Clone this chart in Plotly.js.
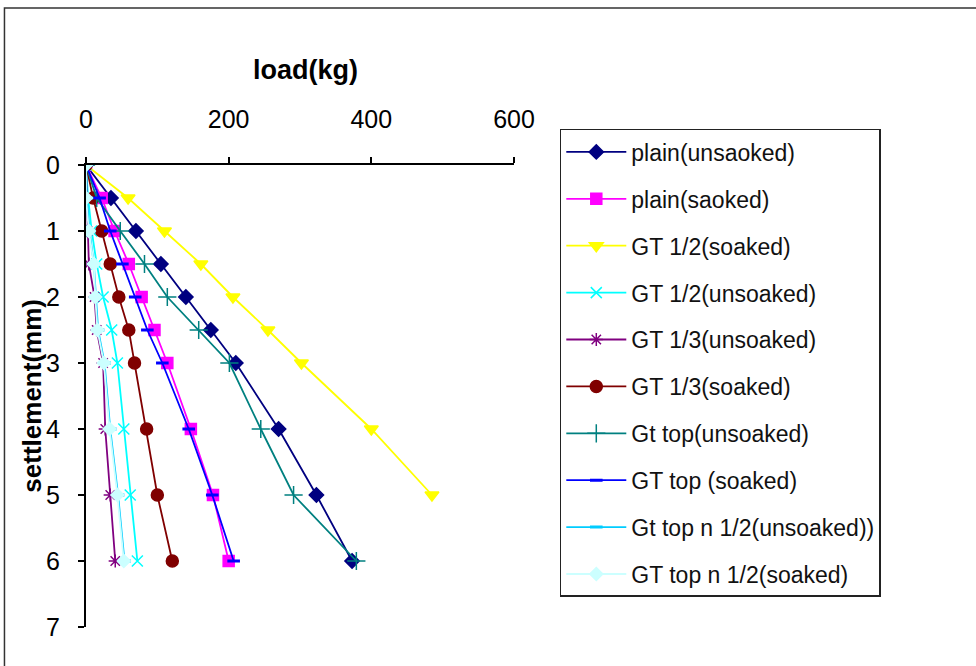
<!DOCTYPE html>
<html>
<head>
<meta charset="utf-8">
<script src="https://cdn.plot.ly/plotly-3.0.1.min.js"></script>
<style>
  html, body { margin: 0; padding: 0; background: #fff; }
  #chart { width: 976px; height: 666px; }
</style>
</head>
<body>
<div id="chart"></div>
<script>
// Settlement readings (mm) shared by every test series
const settlement = [0, 0.5, 1, 1.5, 2, 2.5, 3, 4, 5, 6];

// Load (kg) needed to reach each settlement
const plainUnsoaked      = [0, 35, 70, 105, 140, 175, 210, 270, 323, 373];
const plainSoaked        = [0, 22, 40, 60, 78, 96, 114, 147, 178, 200];
const gtHalfSoaked       = [0, 59, 110, 161, 206, 255, 302, 400, 485, null];
const gtHalfUnsoaked     = [0, 3, 8, 15, 24, 36, 44, 53, 62, 72];
const gtThirdUnsoaked    = [0, 1, 2, 4, 12, 15, 24, 27, 34, 41];
const gtThirdSoaked      = [0, 10, 22, 34, 46, 60, 68, 85, 100, 121];
const gtTopUnsoaked      = [0, 15, 48, 82, 114, 158, 201, 245, 291, 379];
const gtTopSoaked        = [0, 19, 34, 51, 69, 86, 107, 144, 177, 207];
const gtTopHalfUnsoaked  = [0, 1, 5, 11, 14, 17, 26, 34, 45, 54];
const gtTopHalfSoaked    = [0, 0, 4, 11, 13, 16, 25, 33, 44, 53];

const seriesNames = [
  'plain(unsaoked)', 'plain(saoked)', 'GT 1/2(soaked)', 'GT 1/2(unsoaked)',
  'GT 1/3(unsoaked)', 'GT 1/3(soaked)', 'Gt top(unsoaked)', 'GT top (soaked)',
  'Gt top n 1/2(unsoaked))', 'GT top n 1/2(soaked)'
];

const seriesLoads = [
  plainUnsoaked, plainSoaked, gtHalfSoaked, gtHalfUnsoaked, gtThirdUnsoaked,
  gtThirdSoaked, gtTopUnsoaked, gtTopSoaked, gtTopHalfUnsoaked, gtTopHalfSoaked
];

const loadTicks = [0, 200, 400, 600];
const settlementTicks = [0, 1, 2, 3, 4, 5, 6, 7];

const styles = [
  { color: '#000080', symbol: 'diamond', size: 11, lw: 1.5 },
  { color: '#FF00FF', symbol: 'square', size: 11, lw: 1.5 },
  { color: '#FFFF00', symbol: 'triangle-down', size: 12, lw: 1.5 },
  { color: '#00FFFF', symbol: 'x-thin-open', size: 11, lw: 1.5 },
  { color: '#800080', symbol: 'asterisk-open', size: 11, lw: 1.5 },
  { color: '#800000', symbol: 'circle', size: 12, lw: 1.5 },
  { color: '#008080', symbol: 'cross-thin-open', size: 13, lw: 1.5 },
  { color: '#0000FF', symbol: 'line-ew-open', size: 9, lw: 3 },
  { color: '#00CCFF', symbol: 'line-ew-open', size: 9, lw: 3 },
  { color: '#CCFFFF', symbol: 'diamond', size: 10, lw: 1.5 }
];

const traces = seriesNames.map((name, i) => ({
  type: 'scatter',
  mode: 'lines+markers',
  name: name,
  legendgroup: 'g' + i,
  x: seriesLoads[i],
  y: settlement,
  line: { color: styles[i].color, width: 1.8 },
  marker: {
    symbol: styles[i].symbol,
    size: styles[i].size,
    color: styles[i].color,
    line: { color: styles[i].color, width: styles[i].lw }
  },
  connectgaps: false
}));

const layout = {
  width: 976,
  height: 666,
  paper_bgcolor: '#ffffff',
  plot_bgcolor: '#ffffff',
  margin: { l: 86, r: 462, t: 165, b: 39 },
  font: { family: 'Liberation Sans, Arial, sans-serif', size: 20, color: '#000' },
  showlegend: true,
  legend: {
    x: 1.107, xanchor: 'left',
    y: 1.078, yanchor: 'top',
    bordercolor: '#222', borderwidth: 1.5,
    bgcolor: '#fff',
    font: { size: 23, color: '#111' },
    traceorder: 'grouped',
    tracegroupgap: 14,
    itemwidth: 60,
    maxheight: 620
  },
  xaxis: {
    side: 'top',
    range: [0, 600],
    tickvals: loadTicks,
    ticks: 'outside', ticklen: 6, tickwidth: 2, tickcolor: '#000',
    showline: true, linecolor: '#000', linewidth: 2,
    showgrid: false, zeroline: false,
    ticklabelstandoff: 19,
    tickfont: { size: 25 }
  },
  yaxis: {
    range: [7, 0],
    tickvals: settlementTicks,
    ticks: 'outside', ticklen: 6, tickwidth: 2, tickcolor: '#000',
    showline: true, linecolor: '#000', linewidth: 2,
    showgrid: false, zeroline: false,
    ticklabelstandoff: 13,
    tickfont: { size: 25 }
  },
  annotations: [
    {
      text: '<b>load(kg)</b>',
      xref: 'paper', yref: 'paper',
      x: 0.512, y: 1.2056,
      xanchor: 'center', yanchor: 'middle',
      showarrow: false,
      font: { size: 27, color: '#000' }
    },
    {
      text: '<b>settlement(mm)</b>',
      xref: 'paper', yref: 'paper',
      x: -0.127, y: 0.5,
      xanchor: 'center', yanchor: 'middle',
      textangle: -90,
      showarrow: false,
      font: { size: 26, color: '#000' }
    }
  ],
  shapes: [{
    type: 'rect', xref: 'paper', yref: 'paper',
    x0: -0.1905, x1: 2.088, y0: -0.093, y1: 1.3398,
    line: { color: '#333', width: 1.5 },
    layer: 'below'
  }]
};

Plotly.newPlot('chart', traces, layout, { displayModeBar: false, staticPlot: true });
</script>
</body>
</html>
